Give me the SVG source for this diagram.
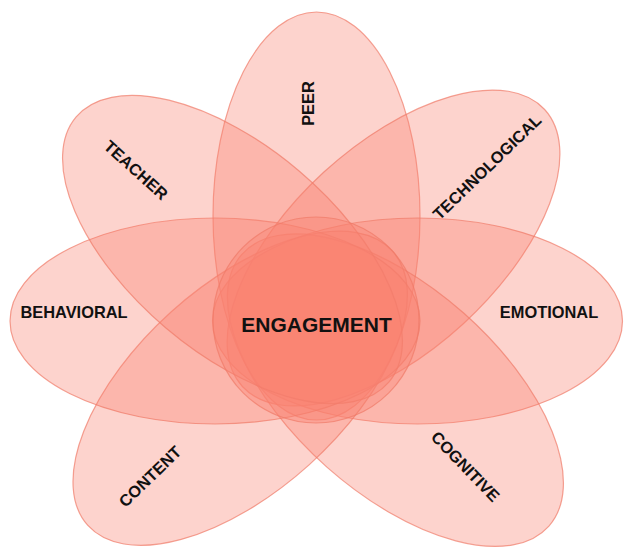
<svg xmlns="http://www.w3.org/2000/svg" width="625" height="549" viewBox="0 0 625 549">
  <style>
    .petal { fill: #f88070; fill-opacity: 0.35; stroke: #f07a68; stroke-opacity: 0.7; stroke-width: 1.2; }
    .lbl { font-family: "Liberation Sans", Arial, sans-serif; font-weight: bold; font-size: 16.4px; fill: #111; text-anchor: middle; }
    .core { font-family: "Liberation Sans", Arial, sans-serif; font-weight: bold; font-size: 21px; fill: #111; text-anchor: middle; }
  </style>
  <rect width="625" height="549" fill="#ffffff"/>

  <!-- petals around the hub at (316,320) -->
  <g id="peer">
    <ellipse class="petal" cx="316.5" cy="216" rx="103.5" ry="204"/>
    <text class="lbl" transform="translate(308 103.5) rotate(-90)" y="5.8">PEER</text>
  </g>
  <g id="technological">
    <ellipse class="petal" cx="393.5" cy="248" rx="205" ry="103" transform="rotate(-42.5 393.5 248)"/>
    <text class="lbl" transform="translate(487 167) rotate(-44)" y="5.8">TECHNOLOGICAL</text>
  </g>
  <g id="emotional">
    <ellipse class="petal" cx="417.5" cy="321" rx="205" ry="103"/>
    <text class="lbl" x="549" y="318">EMOTIONAL</text>
  </g>
  <g id="cognitive">
    <ellipse class="petal" cx="395.4" cy="390.2" rx="205" ry="103" transform="rotate(41.5 395.4 390.2)"/>
    <text class="lbl" transform="translate(465.5 466.5) rotate(46)" y="5.8">COGNITIVE</text>
  </g>
  <g id="content">
    <ellipse class="petal" cx="240.2" cy="388.3" rx="205" ry="103" transform="rotate(-42 240.2 388.3)"/>
    <text class="lbl" transform="translate(150 476.5) rotate(-44)" y="5.8">CONTENT</text>
  </g>
  <g id="behavioral">
    <ellipse class="petal" cx="215" cy="321" rx="205" ry="103"/>
    <text class="lbl" x="74" y="318">BEHAVIORAL</text>
  </g>
  <g id="teacher">
    <ellipse class="petal" cx="232.5" cy="249.5" rx="205" ry="103" transform="rotate(40.3 232.5 249.5)"/>
    <text class="lbl" transform="translate(136 170) rotate(42)" y="5.8">TEACHER</text>
  </g>

  <!-- hub -->
  <g id="engagement">
    <circle class="petal" cx="316" cy="320" r="103"/>
    <text class="core" x="316.5" y="332">ENGAGEMENT</text>
  </g>

  <g id="connectors"/>
</svg>
